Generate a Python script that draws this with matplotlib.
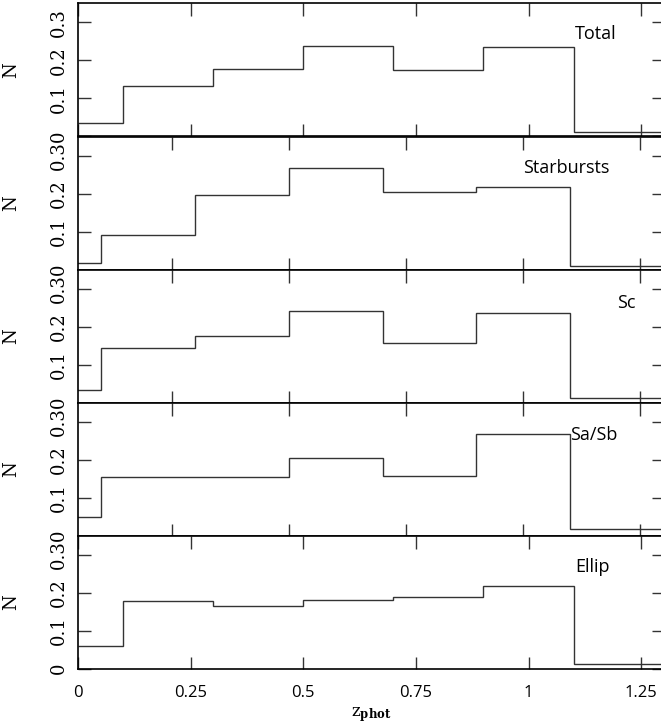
import matplotlib
matplotlib.use('Agg')
import matplotlib.pyplot as plt

# bin edges in z_phot
edges = [0, 0.1, 0.3, 0.5, 0.7, 0.9, 1.1, 1.3]

total = [0.035, 0.133, 0.178, 0.237, 0.175, 0.235, 0.012]
starbursts = [0.017, 0.091, 0.196, 0.268, 0.203, 0.216, 0.009]
sc = [0.033, 0.143, 0.176, 0.242, 0.157, 0.236, 0.013]
sasb = [0.049, 0.153, 0.154, 0.204, 0.157, 0.266, 0.016]
ellip = [0.058, 0.178, 0.165, 0.180, 0.188, 0.216, 0.011]

names = ['Total', 'Starbursts', 'Sc', 'Sa/Sb', 'Ellip']
series = [total, starbursts, sc, sasb, ellip]

# panels 2-4 come from a plot with a slightly shifted x range
xstart = [0, 0.05, 0.05, 0.05, 0]
label_x = [1.103, 1.0, 1.2, 1.101, 1.103]
label_y = [0.268, 0.267, 0.263, 0.264, 0.267]

xticks = [0, 0.25, 0.5, 0.75, 1, 1.25]
xticklabels = ['0', '0.25', '0.5', '0.75', '1', '1.25']
yticks = [0, 0.1, 0.2, 0.3]
yticklabels = ['0', '0.1', '0.2', '0.3']

plt.rcParams['mathtext.fontset'] = 'dejavuserif'

W, H = 661, 726
fig = plt.figure(figsize=(W / 100, H / 100), dpi=100)

left = 78 / W
width = (663.7 - 78) / W
tops = [3.3, 136.5, 269.5, 402.5, 535.5]
ph = 133.0

for i in range(5):
    ax = fig.add_axes([left, 1 - (tops[i] + ph) / H, width, ph / H])
    ax.stairs(series[i], edges, baseline=None, color='#333333', linewidth=1.0)
    ax.set_xticks(xticks)
    ax.set_yticks(yticks)
    ax.set_xlim(xstart[i], 1.3)
    ax.set_ylim(0, 0.35)
    ax.set_yticklabels(yticklabels, family='DejaVu Serif', fontsize=13)
    ax.tick_params(direction='in', length=9, width=1, top=True, right=True,
                   color='#333333')
    ax.tick_params(axis='y', labelrotation=90, pad=7)
    for lab in ax.get_yticklabels():
        lab.set_va('center')
    for sp in ax.spines.values():
        sp.set_linewidth(1.2)
    if i == 4:
        ax.set_xticklabels(xticklabels, family='Open Sans', fontsize=12)
        ax.tick_params(axis='x', pad=12)
        ax.set_xlabel(r'$\mathrm{z}_{\mathbf{phot}}$', fontsize=12, labelpad=3)
    else:
        ax.set_xticklabels([])
    ax.set_ylabel('N', family='DejaVu Serif', fontsize=13, labelpad=22)
    ax.text(label_x[i], label_y[i], names[i], family='Open Sans', fontsize=13,
            ha='left', va='center')

fig.savefig('out.png', dpi=100)
